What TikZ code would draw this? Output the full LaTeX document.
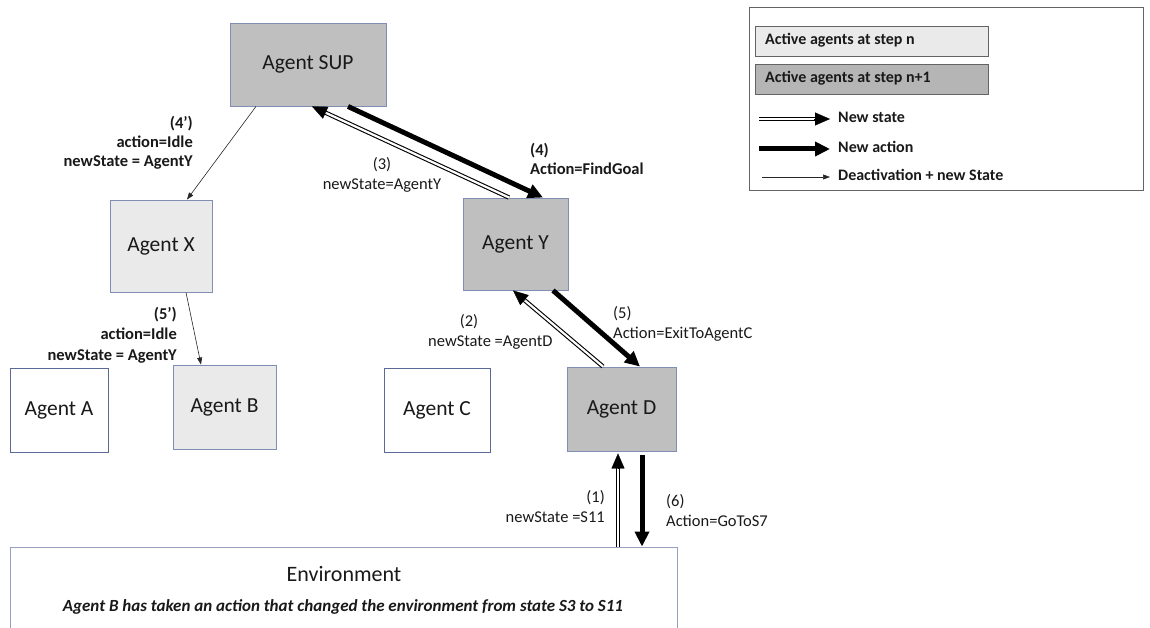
\documentclass[tikz,border=0pt]{standalone}
\usepackage{fontspec}
\setmainfont{Carlito}
\usetikzlibrary{arrows.meta,calc}
\definecolor{darkfill}{RGB}{191,191,191}
\definecolor{lightfill}{RGB}{234,234,234}
\definecolor{boxline}{RGB}{128,142,180}
\definecolor{boxline2}{RGB}{90,105,150}
\definecolor{envline}{RGB}{150,160,190}
\definecolor{legline}{RGB}{100,100,100}
\definecolor{txt}{RGB}{25,25,25}
\tikzset{
  agent/.style={draw=boxline, line width=0.9pt, inner sep=0pt, text=txt,
    font=\fontsize{21.5}{24}\selectfont},
  activen/.style={agent, fill=lightfill},
  activen1/.style={agent, fill=darkfill},
  idle/.style={agent, draw=boxline2, fill=white},
  lbl/.style={inner sep=0pt, text=txt, text height=11pt, text depth=3pt,
    font=\fontsize{16.5}{19}\selectfont},
  lblb/.style={lbl, font=\fontsize{16.5}{19}\selectfont\bfseries},
  legtxt/.style={inner sep=0pt, text=txt, text height=11pt, text depth=3pt,
    font=\fontsize{16}{19}\selectfont\bfseries},
  legbox/.style={draw=legline, line width=0.8pt, minimum width=233pt, minimum height=30pt},
  thinarr/.style={draw=black!85, line width=0.6pt, -{Triangle[length=7pt,width=5pt]}},
  thickarr/.style={draw=black, line width=5pt, -{Triangle[length=15pt,width=14pt]}},
  dblshaft/.style={draw=black, line width=1.1pt, double=white, double distance=2.2pt, shorten >=13pt},
  dblhead/.style={draw=black, line width=0.3pt, -{Triangle[length=15pt,width=13pt]}},
}
\newcommand\dblarrow[2]{%
  \draw[dblshaft] (#1) -- (#2);
  \draw[dblhead] ($(#2)!16pt!(#1)$) -- (#2);}
\begin{document}
\begin{tikzpicture}[x=1pt,y=-1pt]
\useasboundingbox (0,0) rectangle (1150,628);
\clip (0,0) rectangle (1150,628);

% agents
\node[activen1, minimum width=156pt, minimum height=83pt] (sup) at (308,64.5) {Agent SUP};
\node[activen, minimum width=102pt, minimum height=92pt] (ax) at (161,246) {Agent X};
\node[activen1, minimum width=105pt, minimum height=92pt] (ay) at (515.5,244) {Agent Y};
\node[idle, minimum width=98pt, minimum height=84pt] (aa) at (59,410) {Agent A};
\node[activen, minimum width=103pt, minimum height=84pt] (ab) at (224.5,407) {Agent B};
\node[idle, minimum width=106pt, minimum height=84pt] (ac) at (437,410) {Agent C};
\node[activen1, minimum width=109pt, minimum height=84pt] (ad) at (621.5,409) {Agent D};

% environment
\node[draw=envline, line width=0.9pt, fill=white, minimum width=667pt, minimum height=93pt, inner sep=0pt] (env) at (343.5,593.5) {};
\node[inner sep=0pt, text=txt, font=\fontsize{22}{24}\selectfont] (envt) at (344,574) {Environment};
\node[inner sep=0pt, text=txt, font=\fontsize{17}{19}\selectfont\bfseries\itshape] (envd) at (343,607)
  {Agent B has taken an action that changed the environment from state S3 to S11};

% connector anchor points
\coordinate (p3a) at ([xshift=-6.5pt]ay.north);
\coordinate (p3b) at ([xshift=4pt]sup.south);
\coordinate (p2a) at ([xshift=-18.5pt]ad.north);
\coordinate (p2b) at ([xshift=-2.5pt]ay.south);
\coordinate (p1a) at ([xshift=274.5pt]env.north);
\coordinate (p1b) at ([xshift=-3.5pt,yshift=-2pt]ad.south);

% thin arrows
\draw[thinarr] ([xshift=-52pt]sup.south) -- ([xshift=26pt]ax.north);
\draw[thinarr] ([xshift=25pt]ax.south) -- ([xshift=-23.5pt]ab.north);

% thick arrows
\draw[thickarr] ([xshift=40pt]sup.south) -- ([xshift=27.5pt]ay.north);
\draw[thickarr] ([xshift=37.5pt]ay.south) -- ([xshift=18.5pt]ad.north);
\draw[thickarr] ([xshift=20.5pt,yshift=-4pt]ad.south) -- ([xshift=298.5pt]env.north);

% double arrows
\dblarrow{p3a}{p3b}
\dblarrow{p2a}{p2b}
\dblarrow{p1a}{p1b}

% labels
\node[lblb, anchor=east] (l4pa) at (193,125) {(4’)};
\node[lblb, anchor=east] (l4pb) at (193,144) {action=Idle};
\node[lblb, anchor=east] (l4pc) at (193,163) {newState = AgentY};
\node[lbl] (l3a) at (382,166) {(3)};
\node[lbl] (l3b) at (382,186) {newState=AgentY};
\node[lblb, anchor=west] (l4a) at (530,152) {(4)};
\node[lblb, anchor=west] (l4b) at (530,171) {Action=FindGoal};
\node[lblb, anchor=east] (l5pa) at (177,315) {(5’)};
\node[lblb, anchor=east] (l5pb) at (177,335) {action=Idle};
\node[lblb, anchor=east] (l5pc) at (177,356) {newState = AgentY};
\node[lbl] (l2a) at (469,322) {(2)};
\node[lbl, anchor=west] (l2b) at (428,342) {newState =AgentD};
\node[lbl, anchor=west] (l5a) at (613,314) {(5)};
\node[lbl, anchor=west] (l5b) at (613,334) {Action=ExitToAgentC};
\node[lbl, anchor=east] (l1a) at (605,498) {(1)};
\node[lbl, anchor=east] (l1b) at (605,518) {newState =S11};
\node[lbl, anchor=west] (l6a) at (666,502) {(6)};
\node[lbl, anchor=west] (l6b) at (666,522) {Action=GoToS7};

% legend
\node[draw=legline, line width=0.8pt, minimum width=394pt, minimum height=183pt, inner sep=0pt] (legend) at (946,98.5) {};
\node[legbox, fill=lightfill] (lg1) at (871.5,41) {};
\node[legtxt, anchor=west] (lg1t) at (765,41) {Active agents at step n};
\node[legbox, fill=darkfill!95!black] (lg2) at (871.5,79) {};
\node[legtxt, anchor=west] (lg2t) at (765,79) {Active agents at step n+1};
\node[legtxt, anchor=west] (lns) at (838,119) {New state};
\node[legtxt, anchor=west] (lna) at (838,149) {New action};
\node[legtxt, anchor=west] (ldn) at (838,177) {Deactivation + new State};
\coordinate (lns0) at (759,119);
\coordinate (lns1) at ([xshift=-8pt]lns.west);
\coordinate (lna0) at (759,149);
\coordinate (ldn0) at (762,177);
\dblarrow{lns0}{lns1}
\draw[thickarr] (lna0) -- ([xshift=-8pt]lna.west);
\draw[thinarr] (ldn0) -- ([xshift=-8pt]ldn.west);
\end{tikzpicture}
\end{document}
